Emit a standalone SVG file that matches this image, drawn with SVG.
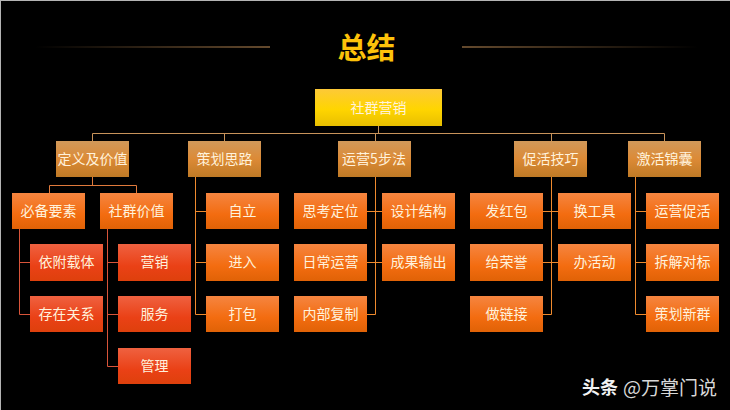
<svg xmlns="http://www.w3.org/2000/svg" width="730" height="410" viewBox="0 0 730 410">
<style>
text{font-family:"Noto Sans CJK SC","Liberation Sans",sans-serif;text-anchor:middle;dominant-baseline:central}
.t{font-size:14px;fill:#fff2dc}
.c{fill:none;stroke-width:1}
.b{stroke:#c8935a}.o{stroke:#e07a3c}.r{stroke:#d8543a}.y{stroke:#ee8a2e}
</style>
<defs>
<linearGradient id="gy" x1="0" y1="0" x2="0" y2="1"><stop offset="0" stop-color="#fdc938"/><stop offset=".55" stop-color="#ffd500"/><stop offset="1" stop-color="#e8bf00"/></linearGradient>
<linearGradient id="gb" x1="0" y1="0" x2="0" y2="1"><stop offset="0" stop-color="#d1995a"/><stop offset=".5" stop-color="#dc8a36"/><stop offset="1" stop-color="#bf7a26"/></linearGradient>
<linearGradient id="go" x1="0" y1="0" x2="0" y2="1"><stop offset="0" stop-color="#f58540"/><stop offset=".6" stop-color="#f36c10"/><stop offset="1" stop-color="#e06206"/></linearGradient>
<linearGradient id="gr" x1="0" y1="0" x2="0" y2="1"><stop offset="0" stop-color="#ef6140"/><stop offset=".6" stop-color="#ea4116"/><stop offset="1" stop-color="#de400c"/></linearGradient>
<linearGradient id="ll" x1="0" y1="0" x2="1" y2="0"><stop offset="0" stop-color="#c8935a" stop-opacity="0"/><stop offset="1" stop-color="#c8935a"/></linearGradient>
<linearGradient id="lr" x1="0" y1="0" x2="1" y2="0"><stop offset="0" stop-color="#c8935a"/><stop offset="1" stop-color="#c8935a" stop-opacity="0"/></linearGradient>
</defs>
<rect width="730" height="410" fill="#000"/>
<path d="M0 .5H730M.5 0V410" stroke="#b4b4b4" fill="none"/>
<g id="title">
<rect x="35" y="46.500" width="235" height="1" fill="url(#ll)"/>
<rect x="462" y="46.500" width="236" height="1" fill="url(#lr)"/>
<text x="366.500" y="46" font-size="29" font-weight="700" fill="#fdc20a">总结</text>
</g>
<g id="connectors">
<path class="c b" d="M378.500 126V133.500M92.500 141V133.500H664.500V141M224.500 133.500V141M375.500 133.500V141M551.500 133.500V141"/>
<path class="c o" d="M92.500 177V185.500M49.500 193V185.500H136.500V193"/>
<path class="c r" d="M19.500 229V314.500H30M19.500 262.500H30M107.500 229V366.500H118M107.500 262.500H118M107.500 314.500H118"/>
<path class="c y" d="M195.500 177V314.500H206M195.500 211.500H206M195.500 262.500H206M375.500 177V314.500H367M367 211.500H382M367 262.500H382M551.500 177V314.500H543M543 211.500H558M543 262.500H558M635.500 177V314.500H646M635.500 211.500H646M635.500 262.500H646"/>
</g>
<g id="root"><rect x="315" y="89" width="127" height="37" fill="url(#gy)"/><text class="t" x="378.500" y="106.500">社群营销</text></g>
<g id="n1"><rect x="56" y="141" width="73" height="36" fill="url(#gb)"/><text class="t" x="92.500" y="158">定义及价值</text></g>
<g id="n2"><rect x="188" y="141" width="73" height="36" fill="url(#gb)"/><text class="t" x="224.500" y="158">策划思路</text></g>
<g id="n3"><rect x="338" y="141" width="73" height="36" fill="url(#gb)"/><text class="t" x="374" y="158">运营5步法</text></g>
<g id="n4"><rect x="514" y="141" width="73" height="36" fill="url(#gb)"/><text class="t" x="550.500" y="158">促活技巧</text></g>
<g id="n5"><rect x="628" y="141" width="73" height="36" fill="url(#gb)"/><text class="t" x="664.500" y="158">激活锦囊</text></g>
<g id="n6"><rect x="12" y="193" width="73" height="36" fill="url(#go)"/><text class="t" x="48.500" y="210">必备要素</text></g>
<g id="n7"><rect x="100" y="193" width="73" height="36" fill="url(#go)"/><text class="t" x="136.500" y="210">社群价值</text></g>
<g id="n8"><rect x="206" y="193" width="73" height="36" fill="url(#go)"/><text class="t" x="242.500" y="210">自立</text></g>
<g id="n9"><rect x="294" y="193" width="73" height="36" fill="url(#go)"/><text class="t" x="330.500" y="210">思考定位</text></g>
<g id="n10"><rect x="382" y="193" width="73" height="36" fill="url(#go)"/><text class="t" x="418.500" y="210">设计结构</text></g>
<g id="n11"><rect x="470" y="193" width="73" height="36" fill="url(#go)"/><text class="t" x="506.500" y="210">发红包</text></g>
<g id="n12"><rect x="558" y="193" width="73" height="36" fill="url(#go)"/><text class="t" x="594.500" y="210">换工具</text></g>
<g id="n13"><rect x="646" y="193" width="73" height="36" fill="url(#go)"/><text class="t" x="682.500" y="210">运营促活</text></g>
<g id="n14"><rect x="30" y="244" width="73" height="37" fill="url(#gr)"/><text class="t" x="66.500" y="261">依附载体</text></g>
<g id="n15"><rect x="118" y="244" width="73" height="37" fill="url(#gr)"/><text class="t" x="154.500" y="261">营销</text></g>
<g id="n16"><rect x="206" y="244" width="73" height="37" fill="url(#go)"/><text class="t" x="242.500" y="261">进入</text></g>
<g id="n17"><rect x="294" y="244" width="73" height="37" fill="url(#go)"/><text class="t" x="330.500" y="261">日常运营</text></g>
<g id="n18"><rect x="382" y="244" width="73" height="37" fill="url(#go)"/><text class="t" x="418.500" y="261">成果输出</text></g>
<g id="n19"><rect x="470" y="244" width="73" height="37" fill="url(#go)"/><text class="t" x="506.500" y="261">给荣誉</text></g>
<g id="n20"><rect x="558" y="244" width="73" height="37" fill="url(#go)"/><text class="t" x="594.500" y="261">办活动</text></g>
<g id="n21"><rect x="646" y="244" width="73" height="37" fill="url(#go)"/><text class="t" x="682.500" y="261">拆解对标</text></g>
<g id="n22"><rect x="30" y="296" width="73" height="36" fill="url(#gr)"/><text class="t" x="66.500" y="313">存在关系</text></g>
<g id="n23"><rect x="118" y="296" width="73" height="36" fill="url(#gr)"/><text class="t" x="154.500" y="313">服务</text></g>
<g id="n24"><rect x="206" y="296" width="73" height="36" fill="url(#go)"/><text class="t" x="242.500" y="313">打包</text></g>
<g id="n25"><rect x="294" y="296" width="73" height="36" fill="url(#go)"/><text class="t" x="330.500" y="313">内部复制</text></g>
<g id="n26"><rect x="470" y="296" width="73" height="36" fill="url(#go)"/><text class="t" x="506.500" y="313">做链接</text></g>
<g id="n27"><rect x="646" y="296" width="73" height="36" fill="url(#go)"/><text class="t" x="682.500" y="313">策划新群</text></g>
<g id="n28"><rect x="118" y="348" width="73" height="36" fill="url(#gr)"/><text class="t" x="154.500" y="365">管理</text></g>
<g id="watermark">
<text x="600" y="386" font-size="18" font-weight="700" fill="#f2f2f2">头条</text>
<text x="670" y="386" font-size="19" fill="#d8d8d8">@万掌门说</text>
</g>
</svg>
